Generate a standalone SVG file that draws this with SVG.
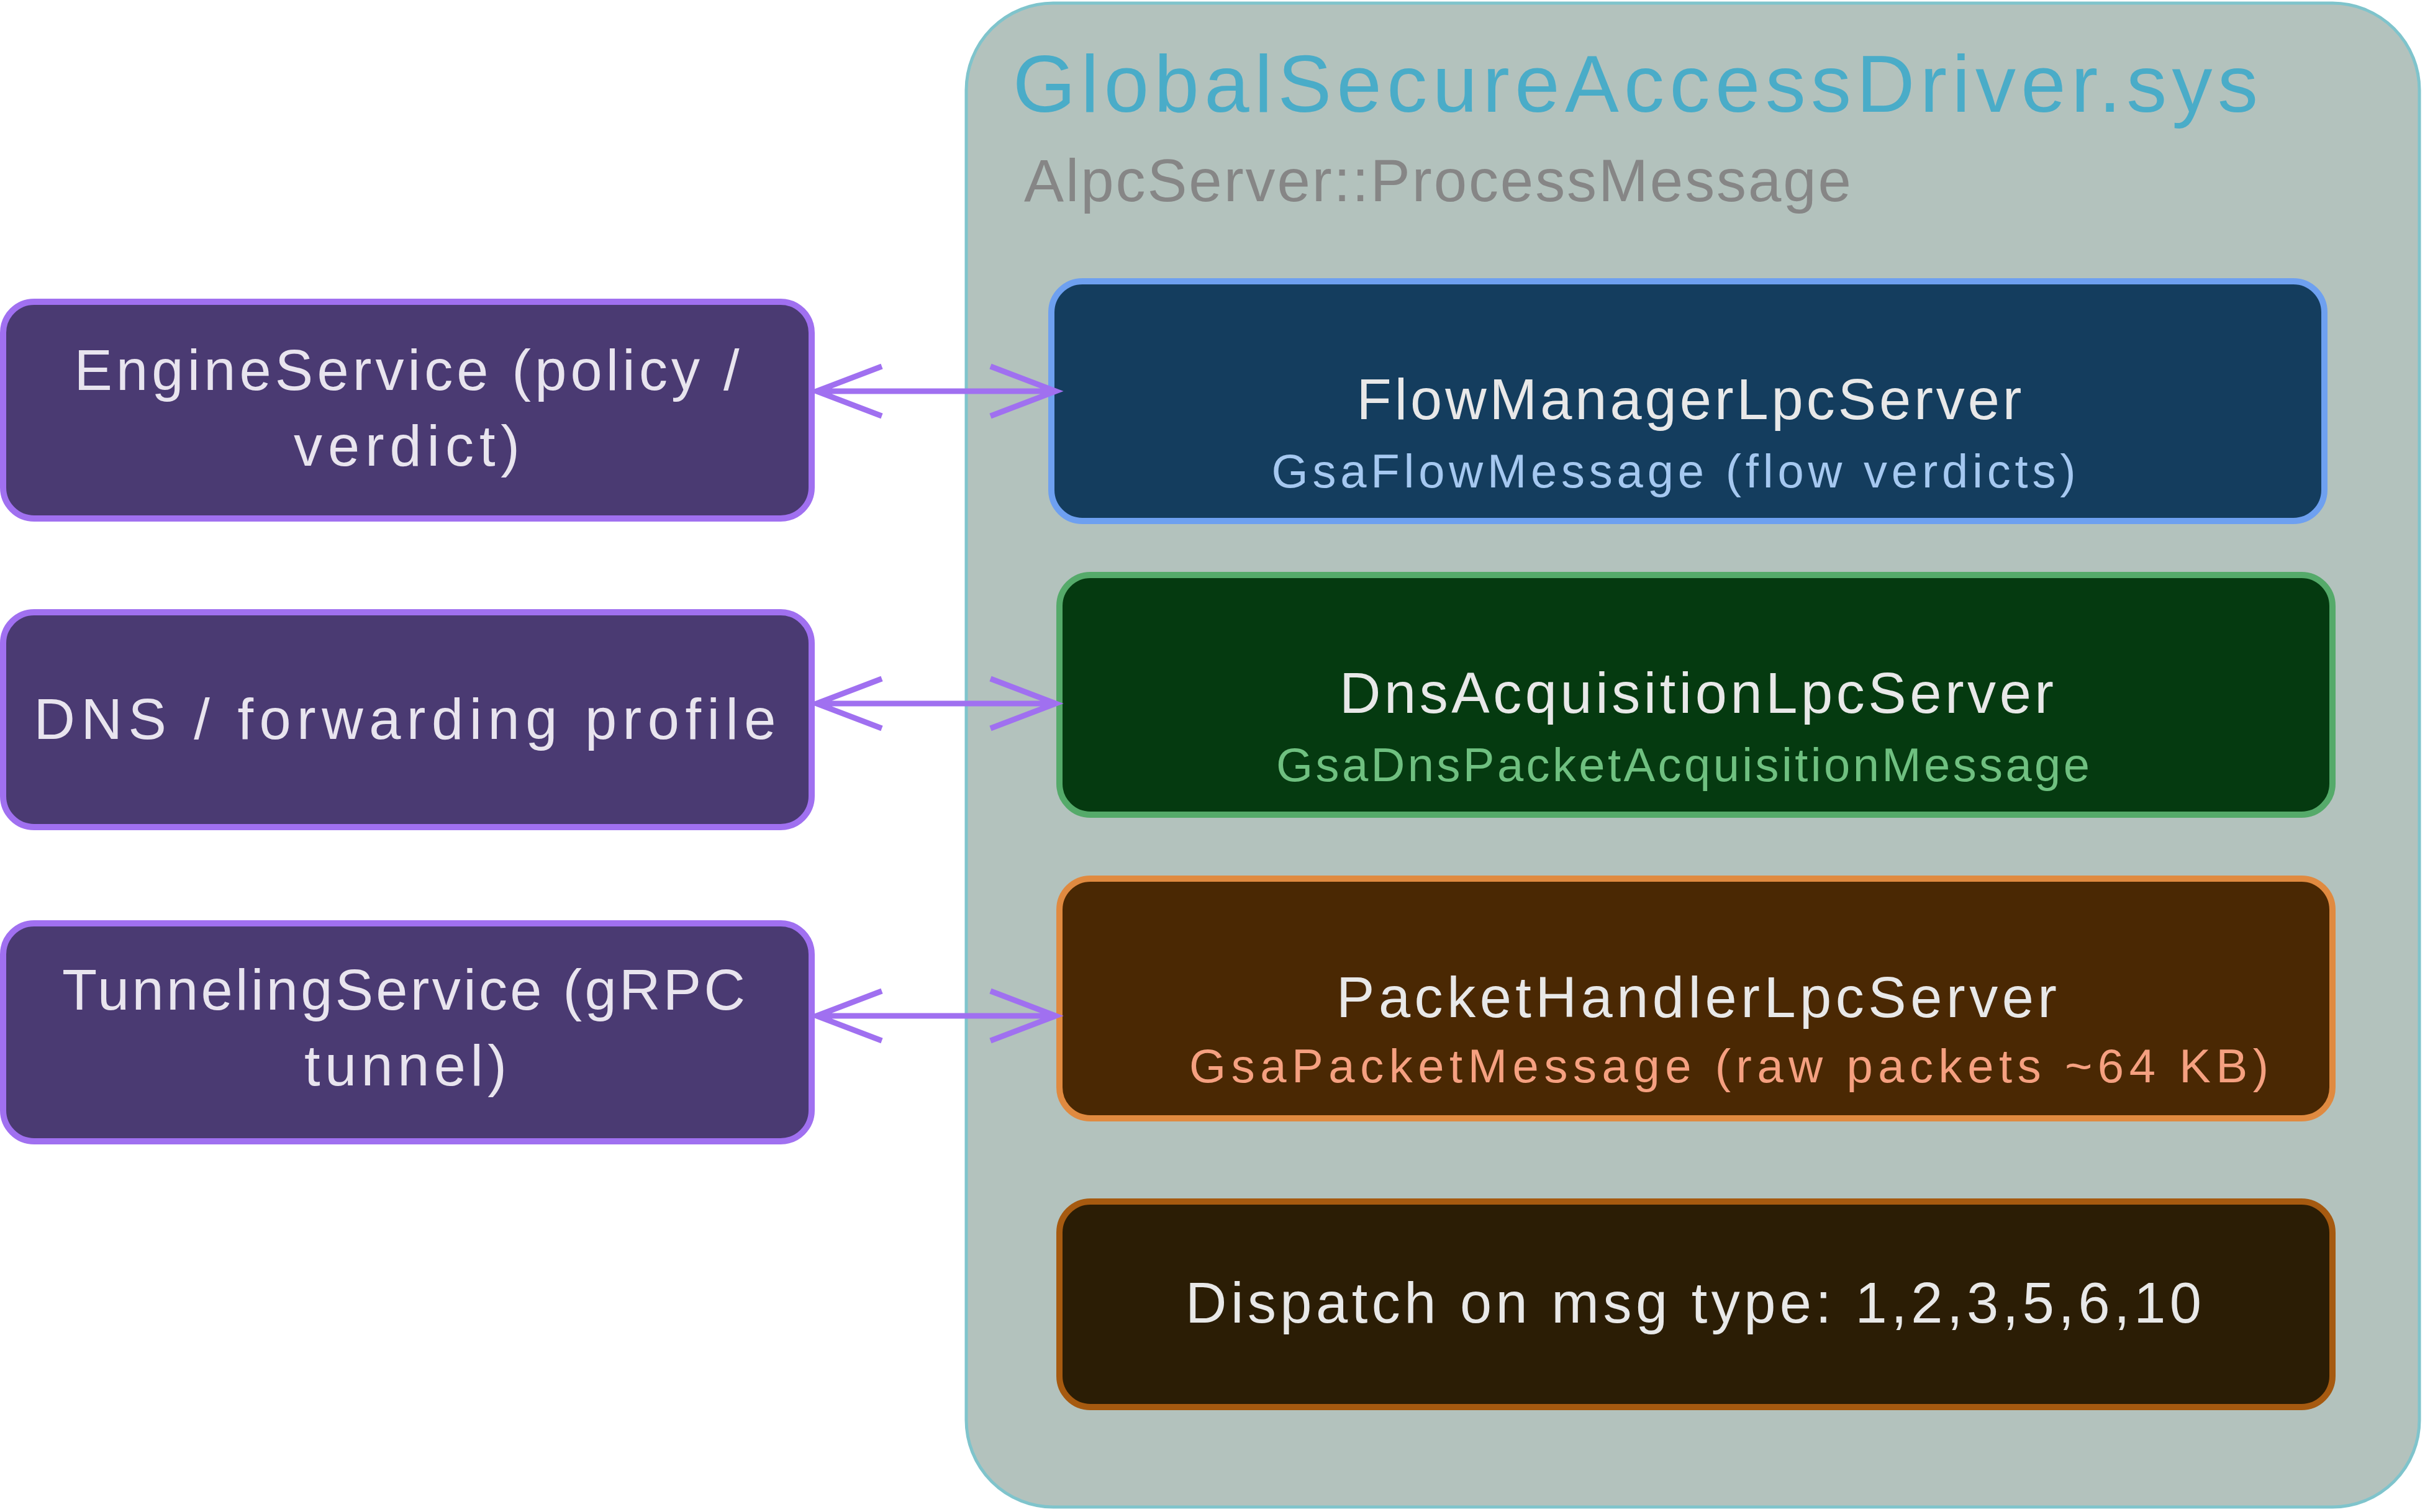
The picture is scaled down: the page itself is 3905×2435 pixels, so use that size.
<svg xmlns="http://www.w3.org/2000/svg" width="3905" height="2435" viewBox="0 0 3905 2435">
<style>
text{font-family:"Liberation Sans","DejaVu Sans",sans-serif;text-anchor:middle}
.lb{fill:#4a3a72;stroke:#a070f0;stroke-width:10}
.lt{fill:#e8e4ee;font-size:92px}
.t{fill:#e8e8e8;font-size:92px}
.s{font-size:76px}
.c{stroke:#a070f0;stroke-width:9;fill:none}
</style>
<g id="container">
<rect x="1556" y="5" width="2340" height="2422" rx="140" fill="#b3c2bd" stroke="#7fc4cc" stroke-width="5"/>
<text x="1631" y="180" style="text-anchor:start;font-size:130px;fill:#4aacc8" textLength="2005">GlobalSecureAccessDriver.sys</text>
<text x="1649" y="324" style="text-anchor:start;font-size:96px;fill:#868686" textLength="1332">AlpcServer::ProcessMessage</text>
</g>
<g id="flow">
<rect x="1693" y="453" width="2050" height="386" rx="50" fill="#143d5e" stroke="#6ea0f0" stroke-width="10"/>
<text class="t" x="2720" y="675" textLength="1071">FlowManagerLpcServer</text>
<text class="s" x="2695" y="785" fill="#a5c8f0" textLength="1295">GsaFlowMessage  (flow verdicts)</text>
</g>
<g id="dns">
<rect x="1706" y="926" width="2050" height="386" rx="50" fill="#053a10" stroke="#55aa6a" stroke-width="10"/>
<text class="t" x="2732" y="1148" textLength="1150">DnsAcquisitionLpcServer</text>
<text class="s" x="2710" y="1258" fill="#6fc080" textLength="1310">GsaDnsPacketAcquisitionMessage</text>
</g>
<g id="packet">
<rect x="1706" y="1415" width="2050" height="386" rx="50" fill="#4a2803" stroke="#e08a40" stroke-width="10"/>
<text class="t" x="2732" y="1638" textLength="1160">PacketHandlerLpcServer</text>
<text class="s" x="2784" y="1743" fill="#f5a080" textLength="1738">GsaPacketMessage  (raw packets ~64 KB)</text>
</g>
<g id="dispatch">
<rect x="1706" y="1935" width="2050" height="331" rx="50" fill="#2b1d05" stroke="#a65a10" stroke-width="10"/>
<text class="t" x="2727" y="2130" textLength="1636">Dispatch on msg type: 1,2,3,5,6,10</text>
</g>
<g id="engine">
<rect class="lb" x="5" y="486" width="1302" height="349" rx="50"/>
<text class="lt" x="655" y="628" textLength="1071">EngineService (policy /</text>
<text class="lt" x="655" y="750" textLength="364">verdict)</text>
</g>
<g id="dnsprofile">
<rect class="lb" x="5" y="986" width="1302" height="346" rx="50"/>
<text class="lt" x="652" y="1190" textLength="1195">DNS / forwarding profile</text>
</g>
<g id="tunnel">
<rect class="lb" x="5" y="1487" width="1302" height="351" rx="50"/>
<text class="lt" x="650" y="1626" textLength="1100">TunnelingService (gRPC</text>
<text class="lt" x="653" y="1748" textLength="326">tunnel)</text>
</g>
<g id="connectors">
<path class="c" d="M1315,630 L1700,630 M1420,590 L1315,630 L1420,670 M1595,590 L1700,630 L1595,670"/>
<path class="c" d="M1315,1133 L1700,1133 M1420,1093 L1315,1133 L1420,1173 M1595,1093 L1700,1133 L1595,1173"/>
<path class="c" d="M1315,1636 L1700,1636 M1420,1596 L1315,1636 L1420,1676 M1595,1596 L1700,1636 L1595,1676"/>
</g>
</svg>
